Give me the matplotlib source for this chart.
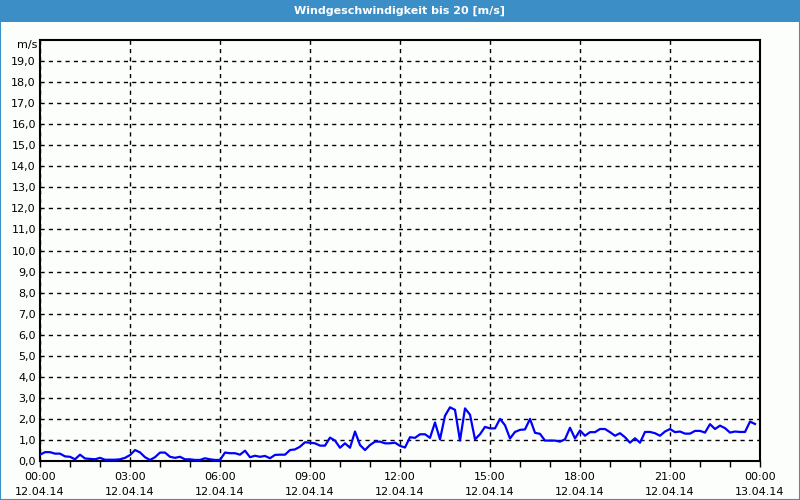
import numpy as np
import matplotlib
matplotlib.use('Agg')
import matplotlib.pyplot as plt
from matplotlib.patches import Rectangle

# wind speed, 10-minute values from 12.04.14 00:00
wind = [0.30, 0.42, 0.42, 0.35, 0.35, 0.22, 0.20, 0.08, 0.30, 0.12,
        0.10, 0.08, 0.15, 0.06, 0.06, 0.06, 0.08, 0.15, 0.28, 0.52,
        0.41, 0.18, 0.05, 0.18, 0.40, 0.40, 0.20, 0.15, 0.20, 0.08,
        0.08, 0.05, 0.05, 0.13, 0.08, 0.05, 0.05, 0.40, 0.37, 0.37,
        0.30, 0.49, 0.18, 0.25, 0.20, 0.24, 0.13, 0.29, 0.30, 0.30,
        0.52, 0.55, 0.68, 0.89, 0.87, 0.84, 0.73, 0.73, 1.11, 0.97,
        0.63, 0.84, 0.63, 1.40, 0.76, 0.52, 0.76, 0.92, 0.92, 0.84,
        0.84, 0.87, 0.72, 0.64, 1.13, 1.10, 1.27, 1.27, 1.10, 1.83,
        1.03, 2.15, 2.55, 2.43, 0.97, 2.50, 2.20, 1.03, 1.27, 1.62,
        1.55, 1.55, 2.00, 1.70, 1.07, 1.38, 1.48, 1.50, 2.00, 1.34,
        1.29, 0.97, 0.97, 0.97, 0.92, 1.03, 1.58, 1.07, 1.45, 1.20,
        1.37, 1.37, 1.52, 1.52, 1.37, 1.20, 1.32, 1.13, 0.87, 1.08,
        0.87, 1.38, 1.38, 1.32, 1.20, 1.40, 1.52, 1.37, 1.40, 1.30,
        1.30, 1.43, 1.43, 1.35, 1.75, 1.52, 1.68, 1.56, 1.35, 1.40,
        1.38, 1.38, 1.87, 1.76]
hours = np.arange(len(wind)) / 6.0

tick_hours = [0, 3, 6, 9, 12, 15, 18, 21, 24]
tick_labels = ['00:00\n12.04.14', '03:00\n12.04.14', '06:00\n12.04.14',
               '09:00\n12.04.14', '12:00\n12.04.14', '15:00\n12.04.14',
               '18:00\n12.04.14', '21:00\n12.04.14', '00:00\n13.04.14']
y_ticks = list(range(20))
y_labels = ['%d,0' % v for v in y_ticks]

fig = plt.figure(figsize=(8, 5), dpi=100, facecolor='#fcfefc')
frame_col = '#3c8fc6'
fig.patches.append(Rectangle((0, 478 / 500), 1, 22 / 500, transform=fig.transFigure,
                             facecolor=frame_col, edgecolor='none', zorder=0))
fig.patches.append(Rectangle((0.0006, 0.001), 0.9988, 0.998, transform=fig.transFigure,
                             facecolor='none', edgecolor=frame_col, linewidth=1.5, zorder=5))
fig.text(0.5, 1 - 11 / 500, 'Windgeschwindigkeit bis 20 [m/s]', color='white',
         ha='center', va='center', fontsize=8, fontweight='bold', family='DejaVu Sans')

ax = fig.add_axes([40 / 800, 1 - 461 / 500, 720 / 800, 421 / 500])
ax.set_facecolor('#fcfefc')
ax.plot(hours, wind, color='#0000ff', linewidth=1.6, zorder=3)

ax.set_xlim(0, 24)
ax.set_ylim(0, 20)
ax.set_xticks(tick_hours)
ax.set_xticklabels(tick_labels, fontsize=8, linespacing=1.6)
ax.set_xticks(range(25), minor=True)
ax.set_yticks(y_ticks)
ax.set_yticklabels(y_labels, fontsize=8)

ax.tick_params(axis='x', which='both', direction='out', length=4, width=1, pad=4)
ax.tick_params(axis='y', length=0, pad=3)
ax.grid(True, which='major', color='black', linestyle=(0, (3, 3)), linewidth=1)
for sp in ax.spines.values():
    sp.set_linewidth(1.5)
ax.text(-0.004, 19.76, 'm/s', transform=ax.get_yaxis_transform(), ha='right', va='center',
        fontsize=8)

fig.savefig('out.png', dpi=100, facecolor=fig.get_facecolor())
